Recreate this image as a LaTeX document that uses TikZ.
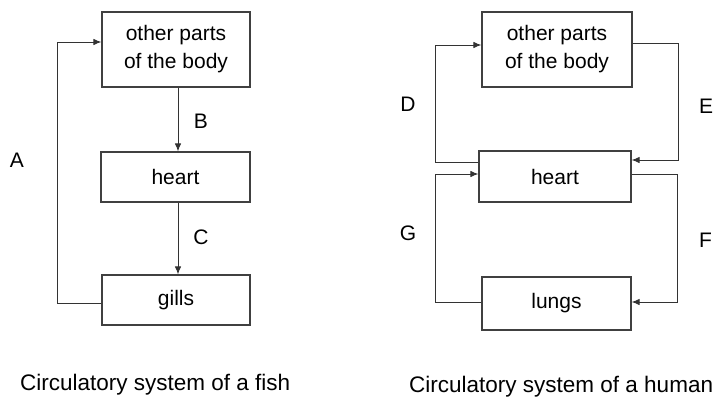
\documentclass[tikz,border=0pt]{standalone}
\usepackage{fontspec}
\setmainfont{Liberation Sans}
\usetikzlibrary{arrows.meta}
\begin{document}
\begin{tikzpicture}[x=1pt,y=-1pt,
  box/.style={draw=black!75, line width=1.1pt, inner sep=0pt, align=center,
    font=\fontsize{21}{28}\selectfont},
  arr/.style={draw=black!80, line width=1pt, -{Latex[length=8pt,width=6.5pt]}},
  lbl/.style={inner sep=0pt, font=\fontsize{21}{25}\selectfont},
  captext/.style={inner sep=0pt, font=\fontsize{22.5}{27}\selectfont}]
\useasboundingbox (0,0) rectangle (715,399);
% ---------- fish ----------
\node[box, minimum width=148pt, minimum height=75pt] (fo) at (176,49.5) {other parts\\of the body};
\node[box, minimum width=149pt, minimum height=50pt] (fh) at (175.5,177) {heart};
\node[box, minimum width=148pt, minimum height=50pt] (fg) at (176,300) {gills};
\coordinate (fb) at (178,0);
\draw[arr] (fo.south -| fb) -- (fh.north -| fb);
\draw[arr] (fh.south -| fb) -- (fg.north -| fb);
\coordinate (a1) at (57,303);
\coordinate (a2) at (57,42);
\draw[arr] (fg.west |- a1) -- (a1) -- (a2) -- (fo.west |- a2);
\node[lbl] (la) at (17,160) {A};
\node[lbl] (lb) at (201,121) {B};
\node[lbl] (lc) at (201,237) {C};
\node[captext, anchor=base west] (cf) at (20,390) {Circulatory system of a fish};
% ---------- human ----------
\node[box, minimum width=150pt, minimum height=75pt] (ho) at (557,49.5) {other parts\\of the body};
\node[box, minimum width=152pt, minimum height=51pt] (hh) at (555,176.5) {heart};
\node[box, minimum width=149pt, minimum height=53pt] (hl) at (556.5,303.5) {lungs};
\coordinate (d1) at (435,162);
\coordinate (d2) at (435,45);
\draw[arr] (hh.west |- d1) -- (d1) -- (d2) -- (ho.west |- d2);
\coordinate (e1) at (678,43);
\coordinate (e2) at (678,160);
\draw[arr] (ho.east |- e1) -- (e1) -- (e2) -- (hh.east |- e2);
\coordinate (f1) at (677,174);
\coordinate (f2) at (677,302);
\draw[arr] (hh.east |- f1) -- (f1) -- (f2) -- (hl.east |- f2);
\coordinate (g1) at (435,302);
\coordinate (g2) at (435,174);
\draw[arr] (hl.west |- g1) -- (g1) -- (g2) -- (hh.west |- g2);
\node[lbl] (ld) at (408,104) {D};
\node[lbl, anchor=west] (le) at (699,106) {E};
\node[lbl, anchor=west] (lf) at (699,240) {F};
\node[lbl] (lg) at (408,233) {G};
\node[captext, anchor=base west] (ch) at (409,392) {Circulatory system of a human};
\end{tikzpicture}
\end{document}
